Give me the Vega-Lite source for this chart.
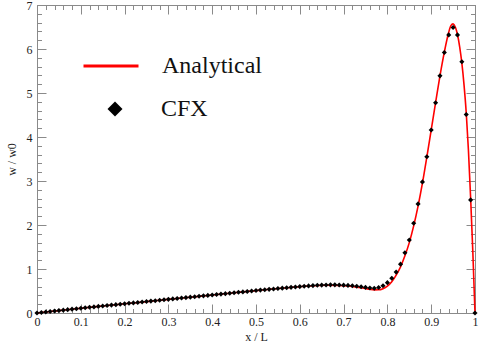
{
  "$schema": "https://vega.github.io/schema/vega-lite/v6.json",
  "width": 438,
  "height": 308,
  "autosize": "none",
  "padding": {"left": 37, "top": 5, "right": 11, "bottom": 34},
  "background": "white",
  "config": {
    "view": {"stroke": "#8a8a8a", "strokeWidth": 1},
    "font": "Liberation Serif, Times New Roman, DejaVu Serif, serif",
    "axis": {
      "grid": false,
      "domainColor": "#8a8a8a",
      "tickColor": "#8a8a8a",
      "tickWidth": 1,
      "labelFont": "Liberation Serif, Times New Roman, DejaVu Serif, serif",
      "labelFontSize": 12,
      "labelColor": "#222222",
      "titleFont": "Liberation Serif, Times New Roman, DejaVu Serif, serif",
      "titleFontSize": 12,
      "titleFontWeight": "normal",
      "titleColor": "#222222",
      "labelOverlap": false,
      "labelFlush": false
    }
  },
  "layer": [
    {
      "data": {"values": [
        {"x": 0, "w": 0, "series": "Analytical"},
        {"x": 0.05, "w": 0.054, "series": "Analytical"},
        {"x": 0.1, "w": 0.108, "series": "Analytical"},
        {"x": 0.15, "w": 0.159, "series": "Analytical"},
        {"x": 0.2, "w": 0.209, "series": "Analytical"},
        {"x": 0.25, "w": 0.259, "series": "Analytical"},
        {"x": 0.3, "w": 0.309, "series": "Analytical"},
        {"x": 0.35, "w": 0.359, "series": "Analytical"},
        {"x": 0.4, "w": 0.409, "series": "Analytical"},
        {"x": 0.45, "w": 0.459, "series": "Analytical"},
        {"x": 0.5, "w": 0.508, "series": "Analytical"},
        {"x": 0.55, "w": 0.556, "series": "Analytical"},
        {"x": 0.6, "w": 0.598, "series": "Analytical"},
        {"x": 0.63, "w": 0.618, "series": "Analytical"},
        {"x": 0.66, "w": 0.63, "series": "Analytical"},
        {"x": 0.69, "w": 0.626, "series": "Analytical"},
        {"x": 0.71, "w": 0.612, "series": "Analytical"},
        {"x": 0.73, "w": 0.588, "series": "Analytical"},
        {"x": 0.75, "w": 0.556, "series": "Analytical"},
        {"x": 0.76, "w": 0.538, "series": "Analytical"},
        {"x": 0.77, "w": 0.526, "series": "Analytical"},
        {"x": 0.78, "w": 0.527, "series": "Analytical"},
        {"x": 0.79, "w": 0.553, "series": "Analytical"},
        {"x": 0.8, "w": 0.61, "series": "Analytical"},
        {"x": 0.81, "w": 0.71, "series": "Analytical"},
        {"x": 0.82, "w": 0.86, "series": "Analytical"},
        {"x": 0.83, "w": 1.05, "series": "Analytical"},
        {"x": 0.84, "w": 1.3, "series": "Analytical"},
        {"x": 0.85, "w": 1.6, "series": "Analytical"},
        {"x": 0.86, "w": 1.98, "series": "Analytical"},
        {"x": 0.87, "w": 2.43, "series": "Analytical"},
        {"x": 0.88, "w": 2.95, "series": "Analytical"},
        {"x": 0.89, "w": 3.54, "series": "Analytical"},
        {"x": 0.9, "w": 4.16, "series": "Analytical"},
        {"x": 0.91, "w": 4.78, "series": "Analytical"},
        {"x": 0.92, "w": 5.39, "series": "Analytical"},
        {"x": 0.93, "w": 5.93, "series": "Analytical"},
        {"x": 0.94, "w": 6.38, "series": "Analytical"},
        {"x": 0.945, "w": 6.53, "series": "Analytical"},
        {"x": 0.95, "w": 6.57, "series": "Analytical"},
        {"x": 0.955, "w": 6.5, "series": "Analytical"},
        {"x": 0.96, "w": 6.33, "series": "Analytical"},
        {"x": 0.965, "w": 6.05, "series": "Analytical"},
        {"x": 0.97, "w": 5.68, "series": "Analytical"},
        {"x": 0.975, "w": 5.18, "series": "Analytical"},
        {"x": 0.98, "w": 4.55, "series": "Analytical"},
        {"x": 0.985, "w": 3.7, "series": "Analytical"},
        {"x": 0.99, "w": 2.62, "series": "Analytical"},
        {"x": 0.995, "w": 1.4, "series": "Analytical"},
        {"x": 1.0, "w": 0, "series": "Analytical"}
      ]},
      "mark": {"type": "line", "strokeWidth": 1.6, "interpolate": "monotone"},
      "encoding": {
        "x": {
          "field": "x", "type": "quantitative",
          "scale": {"domain": [0, 1], "nice": false, "zero": false},
          "axis": {
            "orient": "bottom",
            "values": [0,0.02,0.04,0.06,0.08,0.1,0.12,0.14,0.16,0.18,0.2,0.22,0.24,0.26,0.28,0.3,0.32,0.34,0.36,0.38,0.4,0.42,0.44,0.46,0.48,0.5,0.52,0.54,0.56,0.58,0.6,0.62,0.64,0.66,0.68,0.7,0.72,0.74,0.76,0.78,0.8,0.82,0.84,0.86,0.88,0.9,0.92,0.94,0.96,0.98,1],
            "tickSize": {"condition": {"test": "abs(datum.value*10 - round(datum.value*10)) < 0.001", "value": -9}, "value": -4.5},
            "labelExpr": "abs(datum.value*10 - round(datum.value*10)) < 0.001 ? format(datum.value, '~g') : ''",
            "labelPadding": 12,
            "title": "x / L",
            "titlePadding": 0
          }
        },
        "y": {
          "field": "w", "type": "quantitative",
          "scale": {"domain": [0, 7], "nice": false},
          "axis": {
            "orient": "left",
            "values": [0,0.2,0.4,0.6,0.8,1,1.2,1.4,1.6,1.8,2,2.2,2.4,2.6,2.8,3,3.2,3.4,3.6,3.8,4,4.2,4.4,4.6,4.8,5,5.2,5.4,5.6,5.8,6,6.2,6.4,6.6,6.8,7],
            "tickSize": {"condition": {"test": "abs(datum.value - round(datum.value)) < 0.001", "value": -9}, "value": -4.5},
            "labelExpr": "abs(datum.value - round(datum.value)) < 0.001 ? format(datum.value, '~g') : ''",
            "labelPadding": 14,
            "title": "w / w0",
            "titlePadding": 8
          }
        },
        "color": {
          "field": "series", "type": "nominal",
          "scale": {"domain": ["Analytical"], "range": ["#ff0000"]},
          "legend": {
            "orient": "none", "legendX": 45, "legendY": 32,
            "title": null, "padding": 0,
            "symbolType": "stroke", "symbolSize": 3025, "symbolStrokeWidth": 3,
            "symbolStrokeColor": "#ff0000",
            "labelFont": "Liberation Serif, Times New Roman, DejaVu Serif, serif", "labelFontSize": 24, "labelColor": "#111111",
            "labelOffset": 22, "labelLimit": 300
          }
        }
      }
    },
    {
      "data": {"values": [
        {"x": 0.00, "w": 0.000, "series": "CFX"},
        {"x": 0.01, "w": 0.011, "series": "CFX"},
        {"x": 0.02, "w": 0.022, "series": "CFX"},
        {"x": 0.03, "w": 0.033, "series": "CFX"},
        {"x": 0.04, "w": 0.044, "series": "CFX"},
        {"x": 0.05, "w": 0.055, "series": "CFX"},
        {"x": 0.06, "w": 0.065, "series": "CFX"},
        {"x": 0.07, "w": 0.076, "series": "CFX"},
        {"x": 0.08, "w": 0.087, "series": "CFX"},
        {"x": 0.09, "w": 0.098, "series": "CFX"},
        {"x": 0.10, "w": 0.109, "series": "CFX"},
        {"x": 0.11, "w": 0.119, "series": "CFX"},
        {"x": 0.12, "w": 0.129, "series": "CFX"},
        {"x": 0.13, "w": 0.139, "series": "CFX"},
        {"x": 0.14, "w": 0.150, "series": "CFX"},
        {"x": 0.15, "w": 0.160, "series": "CFX"},
        {"x": 0.16, "w": 0.170, "series": "CFX"},
        {"x": 0.17, "w": 0.180, "series": "CFX"},
        {"x": 0.18, "w": 0.190, "series": "CFX"},
        {"x": 0.19, "w": 0.200, "series": "CFX"},
        {"x": 0.20, "w": 0.210, "series": "CFX"},
        {"x": 0.21, "w": 0.220, "series": "CFX"},
        {"x": 0.22, "w": 0.230, "series": "CFX"},
        {"x": 0.23, "w": 0.240, "series": "CFX"},
        {"x": 0.24, "w": 0.250, "series": "CFX"},
        {"x": 0.25, "w": 0.260, "series": "CFX"},
        {"x": 0.26, "w": 0.270, "series": "CFX"},
        {"x": 0.27, "w": 0.280, "series": "CFX"},
        {"x": 0.28, "w": 0.290, "series": "CFX"},
        {"x": 0.29, "w": 0.300, "series": "CFX"},
        {"x": 0.30, "w": 0.310, "series": "CFX"},
        {"x": 0.31, "w": 0.320, "series": "CFX"},
        {"x": 0.32, "w": 0.330, "series": "CFX"},
        {"x": 0.33, "w": 0.340, "series": "CFX"},
        {"x": 0.34, "w": 0.350, "series": "CFX"},
        {"x": 0.35, "w": 0.360, "series": "CFX"},
        {"x": 0.36, "w": 0.370, "series": "CFX"},
        {"x": 0.37, "w": 0.380, "series": "CFX"},
        {"x": 0.38, "w": 0.390, "series": "CFX"},
        {"x": 0.39, "w": 0.400, "series": "CFX"},
        {"x": 0.40, "w": 0.410, "series": "CFX"},
        {"x": 0.41, "w": 0.420, "series": "CFX"},
        {"x": 0.42, "w": 0.430, "series": "CFX"},
        {"x": 0.43, "w": 0.440, "series": "CFX"},
        {"x": 0.44, "w": 0.450, "series": "CFX"},
        {"x": 0.45, "w": 0.460, "series": "CFX"},
        {"x": 0.46, "w": 0.470, "series": "CFX"},
        {"x": 0.47, "w": 0.480, "series": "CFX"},
        {"x": 0.48, "w": 0.490, "series": "CFX"},
        {"x": 0.49, "w": 0.500, "series": "CFX"},
        {"x": 0.50, "w": 0.510, "series": "CFX"},
        {"x": 0.51, "w": 0.520, "series": "CFX"},
        {"x": 0.52, "w": 0.529, "series": "CFX"},
        {"x": 0.53, "w": 0.538, "series": "CFX"},
        {"x": 0.54, "w": 0.547, "series": "CFX"},
        {"x": 0.55, "w": 0.556, "series": "CFX"},
        {"x": 0.56, "w": 0.565, "series": "CFX"},
        {"x": 0.57, "w": 0.574, "series": "CFX"},
        {"x": 0.58, "w": 0.583, "series": "CFX"},
        {"x": 0.59, "w": 0.592, "series": "CFX"},
        {"x": 0.60, "w": 0.600, "series": "CFX"},
        {"x": 0.61, "w": 0.608, "series": "CFX"},
        {"x": 0.62, "w": 0.616, "series": "CFX"},
        {"x": 0.63, "w": 0.623, "series": "CFX"},
        {"x": 0.64, "w": 0.629, "series": "CFX"},
        {"x": 0.65, "w": 0.634, "series": "CFX"},
        {"x": 0.66, "w": 0.638, "series": "CFX"},
        {"x": 0.67, "w": 0.640, "series": "CFX"},
        {"x": 0.68, "w": 0.640, "series": "CFX"},
        {"x": 0.69, "w": 0.638, "series": "CFX"},
        {"x": 0.70, "w": 0.633, "series": "CFX"},
        {"x": 0.71, "w": 0.627, "series": "CFX"},
        {"x": 0.72, "w": 0.618, "series": "CFX"},
        {"x": 0.73, "w": 0.608, "series": "CFX"},
        {"x": 0.74, "w": 0.596, "series": "CFX"},
        {"x": 0.75, "w": 0.582, "series": "CFX"},
        {"x": 0.76, "w": 0.568, "series": "CFX"},
        {"x": 0.77, "w": 0.563, "series": "CFX"},
        {"x": 0.78, "w": 0.578, "series": "CFX"},
        {"x": 0.79, "w": 0.620, "series": "CFX"},
        {"x": 0.80, "w": 0.690, "series": "CFX"},
        {"x": 0.81, "w": 0.790, "series": "CFX"},
        {"x": 0.82, "w": 0.930, "series": "CFX"},
        {"x": 0.83, "w": 1.110, "series": "CFX"},
        {"x": 0.84, "w": 1.370, "series": "CFX"},
        {"x": 0.85, "w": 1.660, "series": "CFX"},
        {"x": 0.86, "w": 2.040, "series": "CFX"},
        {"x": 0.87, "w": 2.480, "series": "CFX"},
        {"x": 0.88, "w": 2.980, "series": "CFX"},
        {"x": 0.89, "w": 3.550, "series": "CFX"},
        {"x": 0.90, "w": 4.160, "series": "CFX"},
        {"x": 0.91, "w": 4.780, "series": "CFX"},
        {"x": 0.92, "w": 5.390, "series": "CFX"},
        {"x": 0.93, "w": 5.920, "series": "CFX"},
        {"x": 0.94, "w": 6.320, "series": "CFX"},
        {"x": 0.95, "w": 6.490, "series": "CFX"},
        {"x": 0.96, "w": 6.320, "series": "CFX"},
        {"x": 0.97, "w": 5.710, "series": "CFX"},
        {"x": 0.98, "w": 4.510, "series": "CFX"},
        {"x": 0.99, "w": 2.570, "series": "CFX"},
        {"x": 1.00, "w": 0.000, "series": "CFX"}
      ]},
      "mark": {"type": "point", "filled": true, "color": "#000000", "size": 26, "opacity": 1},
      "encoding": {
        "x": {
          "field": "x", "type": "quantitative",
          "axis": {
            "orient": "top",
            "values": [0,0.02,0.04,0.06,0.08,0.1,0.12,0.14,0.16,0.18,0.2,0.22,0.24,0.26,0.28,0.3,0.32,0.34,0.36,0.38,0.4,0.42,0.44,0.46,0.48,0.5,0.52,0.54,0.56,0.58,0.6,0.62,0.64,0.66,0.68,0.7,0.72,0.74,0.76,0.78,0.8,0.82,0.84,0.86,0.88,0.9,0.92,0.94,0.96,0.98,1],
            "tickSize": {"condition": {"test": "abs(datum.value*10 - round(datum.value*10)) < 0.001", "value": -9}, "value": -4.5},
            "labels": false,
            "title": null
          }
        },
        "y": {
          "field": "w", "type": "quantitative",
          "axis": {
            "orient": "right",
            "values": [0,0.2,0.4,0.6,0.8,1,1.2,1.4,1.6,1.8,2,2.2,2.4,2.6,2.8,3,3.2,3.4,3.6,3.8,4,4.2,4.4,4.6,4.8,5,5.2,5.4,5.6,5.8,6,6.2,6.4,6.6,6.8,7],
            "tickSize": {"condition": {"test": "abs(datum.value - round(datum.value)) < 0.001", "value": -9}, "value": -4.5},
            "labels": false,
            "title": null
          }
        },
        "shape": {
          "field": "series", "type": "nominal",
          "scale": {"domain": ["CFX"], "range": ["diamond"]},
          "legend": {
            "orient": "none", "legendX": 66, "legendY": 92,
            "title": null, "padding": 0,
            "symbolSize": 225, "symbolFillColor": "#000000", "symbolStrokeColor": "#000000", "symbolStrokeWidth": 0,
            "labelFont": "Liberation Serif, Times New Roman, DejaVu Serif, serif", "labelFontSize": 24, "labelColor": "#111111",
            "labelOffset": 34, "labelLimit": 300
          }
        }
      }
    }
  ],
  "resolve": {"axis": {"x": "independent", "y": "independent"}}
}
